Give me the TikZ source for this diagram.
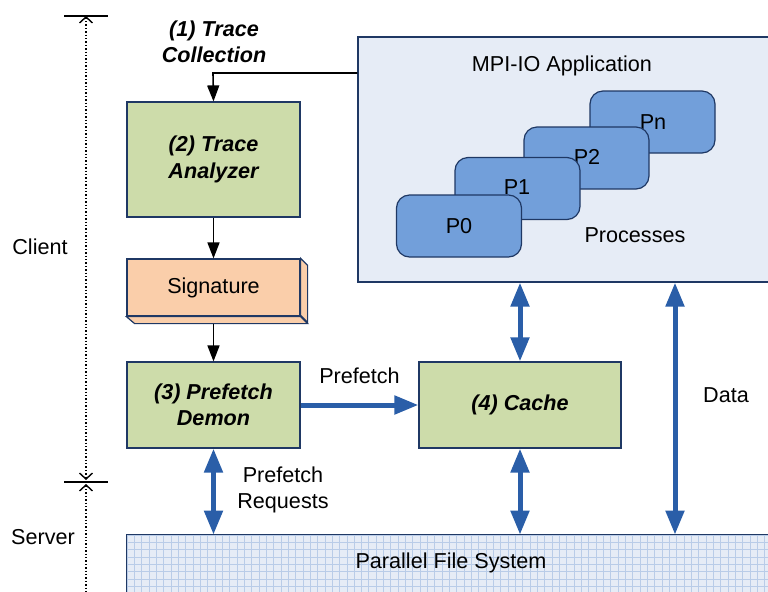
\documentclass[tikz,border=0pt]{standalone}
\usepackage{fontspec}
\setmainfont{Liberation Sans}
\definecolor{boxgreen}{RGB}{205,220,170}
\definecolor{boxline}{RGB}{31,56,100}
\definecolor{sigorange}{RGB}{250,206,170}
\definecolor{appblue}{RGB}{230,236,246}
\definecolor{procblue}{RGB}{114,159,218}
\definecolor{flowblue}{RGB}{42,94,168}
\definecolor{gridblue}{RGB}{185,204,232}
\usetikzlibrary{arrows.meta}

\begin{document}
\begin{tikzpicture}[x=0.5pt,y=-0.5pt,
  every node/.style={font=\fontsize{10.8}{13.2}\selectfont},
  stage/.style={draw=boxline,fill=boxgreen,line width=0.6pt,inner sep=0,align=center,
    font=\fontsize{10.8}{13.2}\selectfont\bfseries\itshape},
  proc/.style={draw=boxline,fill=procblue,rounded corners=6.5pt,line width=0.6pt,
    minimum width=62.5pt,minimum height=31pt},
  flow/.style={{Triangle[length=12pt,width=9pt]}-{Triangle[length=12pt,width=9pt]},
    flowblue,line width=2.5pt},
  flowto/.style={-{Triangle[length=12pt,width=9pt]},flowblue,line width=2.5pt},
  ctrl/.style={-{Triangle[length=8pt,width=6pt]},line width=0.8pt},
  dim/.style={densely dotted,line width=0.7pt,
    {Straight Barb[length=3pt,width=6.5pt]}-{Straight Barb[length=3pt,width=6.5pt]}}]
  \useasboundingbox (0,0) rectangle (768,591);
  % client / server split
  \coordinate (ctop) at (86,16);
  \coordinate (cmid) at (86,482);
  \coordinate (cbot) at (86,600);
  \draw[line width=0.6pt] (64,16) -- (108,16);
  \draw[line width=0.6pt] (64,482) -- (108,482);
  \draw[dim] (ctop) -- ([yshift=1pt]cmid);
  \draw[dim] ([yshift=-1pt]cmid) -- (cbot);
  \node (client) at (40,247) {Client};
  \node (server) at (43,537) {Server};
  % application
  \node[draw=boxline,fill=appblue,line width=0.6pt,minimum width=208.5pt,minimum height=122.5pt]
    (app) at (566.5,159.5) {};
  \node (apptitle) at (562,66) {MPI-IO Application};
  \node[proc] (pn) at (652.5,122) {};
  \node (pnl) at (653,122) {Pn};
  \node[proc] (p2) at (586.5,158) {};
  \node (p2l) at (587,157) {P2};
  \node[proc] (p1) at (517.5,188.5) {};
  \node (p1l) at (517,187) {P1};
  \node[proc] (p0) at (459,226) {P0};
  \node (procs) at (635,235) {Processes};
  % client side stages
  \node[font=\fontsize{10.8}{13.2}\selectfont\bfseries\itshape,align=center]
    (trace) at (214,42) {(1) Trace\\Collection};
  \node[stage,minimum width=86.5pt,minimum height=57.5pt] (ana) at (213.5,159.5) {(2) Trace\\Analyzer};
  \node[draw=boxline,fill=sigorange,line width=0.6pt,minimum width=86.5pt,minimum height=28.5pt]
    (sig) at (213.5,287.5) {Signature};
  \draw[draw=boxline,fill=sigorange,line width=0.6pt]
    (sig.north east) -- ++(7,7) -- ++(0,57) -- ++(-7,-7) -- cycle;
  \draw[draw=boxline,fill=sigorange,line width=0.6pt]
    (sig.south west) -- (sig.south east) -- ++(7,7) -- ++(-173,0) -- cycle;
  \node[stage,minimum width=86.5pt,minimum height=43pt] (dem) at (213.5,405) {(3) Prefetch\\Demon};
  \node[stage,minimum width=101pt,minimum height=43pt] (cache) at (520,405) {(4) Cache};
  % server
  \node[fill=appblue,minimum width=324pt,minimum height=32.5pt] (pfs) at (451,567.5) {};
  \begin{scope}
    \clip (pfs.south west) rectangle (pfs.north east);
    \foreach \gx in {0,...,88}
      \draw[gridblue,line width=0.4pt] (127+\gx*7.33,535) -- (127+\gx*7.33,600);
    \foreach \gy in {0,...,8}
      \draw[gridblue,line width=0.4pt] (127,535+\gy*7.33) -- (775,535+\gy*7.33);
  \end{scope}
  \draw[boxline,line width=0.6pt] (pfs.south west) rectangle (pfs.north east);
  \node (pfsl) at (451,563) {Parallel File System};
  % connectors
  \coordinate (tc) at (213,73);
  \draw[ctrl] (app.west |- tc) -- (tc) -- (ana.north);
  \draw[ctrl] (ana) -- (sig);
  \draw[ctrl] ([yshift=-3.5pt]sig.south) -- (dem.north);
  \draw[flowto] (dem) -- (cache) node[midway,above=6pt,text=black] (pf) {Prefetch};
  \draw[flow] (app.south -| cache) -- (cache.north);
  \draw[flow] (cache.south) -- (cache.south |- pfs.north);
  \draw[flow] (dem.south) -- (dem.south |- pfs.north);
  \coordinate (data) at (675,395);
  \draw[flow] (app.south -| data) -- (pfs.north -| data);
  \node (datal) at (726,395) {Data};
  \node[align=center] (pfreq) at (283,490) {Prefetch\\Requests};
\end{tikzpicture}
\end{document}
